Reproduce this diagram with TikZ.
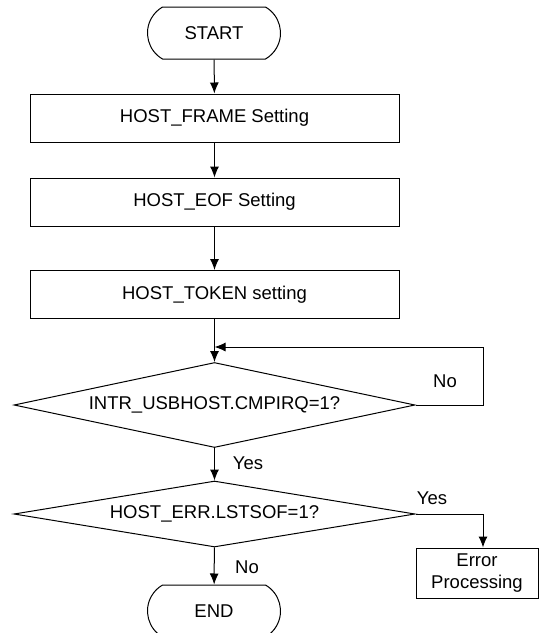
\documentclass[tikz,border=0pt]{standalone}
\usepackage{fontspec}
\setmainfont{Liberation Sans}
\usetikzlibrary{shapes.geometric,shapes.misc,arrows.meta}
\begin{document}
\begin{tikzpicture}[x=1pt,y=-1pt,
  font=\fontsize{18.5}{22}\selectfont,
  every node/.style={inner sep=0pt},
  term/.style={draw,rounded rectangle,rounded rectangle arc length=120,minimum width=133pt,minimum height=52pt},
  procbox/.style={draw,rectangle,minimum width=369pt,minimum height=48pt},
  decide/.style={draw,diamond,aspect=6,minimum width=401pt},
  arr/.style={-{Latex[length=11pt,width=9pt]}},
  line width=1pt]
\useasboundingbox (0,0) rectangle (540,633);
\node[term] (start) at (214,33) {START};
\node[procbox] (b1) at (214.5,118) {HOST\_FRAME Setting};
\node[procbox] (b2) at (214.5,202) {HOST\_EOF Setting};
\node[procbox] (b3) at (214.5,294.5) {HOST\_TOKEN setting};
\node[decide,minimum height=85pt] (d1) at (214.5,405) {INTR\_USBHOST.CMPIRQ=1?};
\node[decide,minimum height=66pt] (d2) at (214.5,514) {HOST\_ERR.LSTSOF=1?};
\node[draw,rectangle,minimum width=122pt,minimum height=50pt,align=center] (err) at (477,573) {Error\\Processing};
\node[term] (end) at (214,611) {END};
\coordinate (loopc) at (214.5,347);
\coordinate (loopr) at (483,347);
\node (no1) at (445,381) {No};
\node (yes1) at (248,463) {Yes};
\node (yes2) at (432,498) {Yes};
\node (no2) at (247,567) {No};
\draw[arr] (start) -- (b1);
\draw[arr] (b1) -- (b2);
\draw[arr] (b2) -- (b3);
\draw[arr] (b3) -- (d1);
\draw[arr] (d1.east) -| (loopr) -- (loopc);
\draw[arr] (d1) -- (d2);
\draw[arr] (d2.east) -| ([xshift=6pt]err.north);
\draw[arr] (d2) -- (end);
\end{tikzpicture}
\end{document}
